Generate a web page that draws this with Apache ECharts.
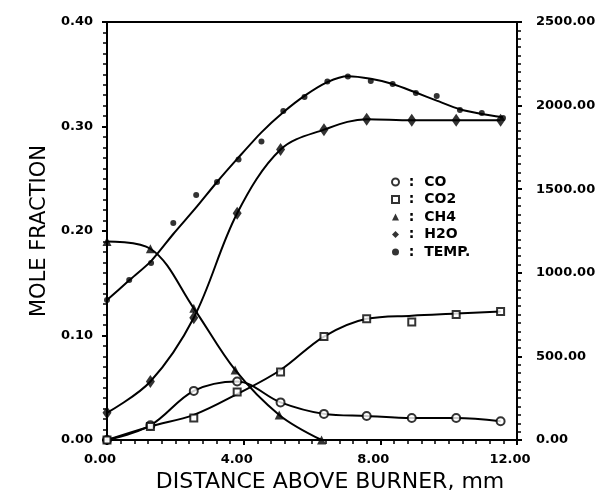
<!DOCTYPE html>
<html>
<head>
<meta charset="utf-8">
<script src="https://cdn.jsdelivr.net/npm/echarts@6/dist/echarts.min.js"></script>
<style>
html,body{margin:0;padding:0;background:#fff;}
#chart{width:607px;height:499px;}
</style>
</head>
<body>
<div id="chart"></div>
<script>
// Distances (mm) of species measurements
const speciesX = [0, 1.27, 2.54, 3.81, 5.08, 6.35, 7.6, 8.92, 10.22, 11.52];
const coVals  = [0, 0.014, 0.047, 0.056, 0.036, 0.025, 0.023, 0.021, 0.021, 0.018];
const co2Vals = [0, 0.013, 0.021, 0.046, 0.065, 0.099, 0.116, 0.113, 0.120, 0.123];
const co2Fit  = [0, 0.013, 0.024, 0.044, 0.067, 0.099, 0.116, 0.119, 0.121, 0.123];
const ch4X    = [0, 1.27, 2.54, 3.75, 5.04, 6.28];
const ch4Vals = [0.190, 0.183, 0.126, 0.067, 0.024, 0.0];
const h2oVals = [0.026, 0.056, 0.117, 0.217, 0.278, 0.297, 0.307, 0.306, 0.306, 0.306];
// Temperature (K)
const tempX   = [0, 0.65, 1.29, 1.94, 2.61, 3.22, 3.85, 4.52, 5.16, 5.78, 6.45, 7.05, 7.72, 8.36, 9.04, 9.65, 10.33, 10.97, 11.59];
const tempVals= [837, 957, 1059, 1298, 1465, 1543, 1678, 1785, 1968, 2051, 2144, 2174, 2147, 2129, 2075, 2057, 1974, 1956, 1926];
const tempFit = [837, 955, 1070, 1232, 1391, 1543, 1690, 1840, 1960, 2058, 2140, 2175, 2160, 2129, 2078, 2030, 1978, 1950, 1930];
// Axis ticks
const xTicks = {min: 0, max: 12, step: 4};
const leftTicks = {min: 0, max: 0.4, step: 0.1};
const rightTicks = {min: 0, max: 2500, step: 500};
const names = ['CO', 'CO2', 'CH4', 'H2O', 'TEMP.'];

const pair = (xs, ys) => xs.map((x, i) => [x, ys[i]]);
const FONT = 'DejaVu Sans';
const lab = {color: '#000', fontFamily: FONT, fontWeight: 'bold', fontSize: 13};
const axLine = {show: true, lineStyle: {color: '#000', width: 2}};
const tick = (inside) => ({show: true, inside: inside, length: 5, lineStyle: {color: '#000', width: 2}});
const minor = {show: true, splitNumber: 10, length: 4, lineStyle: {color: '#000', width: 1.5}};

const lineS = (name, data, yi, sm) => ({
  name: name, type: 'line', data: data, yAxisIndex: yi, smooth: sm,
  showSymbol: false, silent: true, lineStyle: {color: '#000', width: 2}, z: 2
});
const ptS = (name, data, yi, symbol, size, bw) => ({
  name: name, type: 'scatter', data: data, yAxisIndex: yi, symbol: symbol, symbolSize: size,
  itemStyle: {color: '#000', borderColor: '#000', borderWidth: bw}, z: 3
});

const chart = echarts.init(document.getElementById('chart'), null, {renderer: 'canvas'});
chart.setOption({
  animation: false,
  backgroundColor: '#fff',
  grid: {left: 107, right: 90, top: 22, bottom: 59, show: true, borderColor: '#000', borderWidth: 2, backgroundColor: 'transparent'},
  legend: {
    data: names.map(n => ({name: n})),
    orient: 'vertical', left: 386, top: 170, itemWidth: 7, itemHeight: 7, itemGap: 3.5,
    textStyle: Object.assign({}, lab, {fontSize: 14}),
    formatter: n => ' :  ' + n, selectedMode: false
  },
  xAxis: {
    type: 'value', min: xTicks.min, max: xTicks.max, interval: xTicks.step,
    axisLine: axLine, axisTick: tick(false), minorTick: minor,
    splitLine: {show: false}, minorSplitLine: {show: false},
    axisLabel: Object.assign({}, lab, {margin: 13, padding: [0, 14, 0, 0], formatter: v => v.toFixed(2)}),
    name: 'DISTANCE ABOVE BURNER, mm', nameLocation: 'middle', nameGap: 31,
    nameTextStyle: {color: '#000', fontFamily: FONT, fontSize: 22, padding: [0, 0, 0, 36]}
  },
  yAxis: [{
    type: 'value', min: leftTicks.min, max: leftTicks.max, interval: leftTicks.step, position: 'left',
    axisLine: axLine, axisTick: tick(false), minorTick: minor,
    splitLine: {show: false}, minorSplitLine: {show: false},
    axisLabel: Object.assign({}, lab, {margin: 14, formatter: v => v.toFixed(2)}),
    name: 'MOLE FRACTION', nameLocation: 'middle', nameGap: 55, nameRotate: 90,
    nameTextStyle: {color: '#000', fontFamily: FONT, fontSize: 21}
  }, {
    type: 'value', min: rightTicks.min, max: rightTicks.max, interval: rightTicks.step, position: 'right',
    axisLine: axLine, axisTick: tick(false), minorTick: minor,
    splitLine: {show: false}, minorSplitLine: {show: false},
    axisLabel: Object.assign({}, lab, {margin: 19, padding: [14, 0, 0, 0], formatter: v => v.toFixed(2)})
  }],
  series: [
    lineS('CO line', pair(speciesX, coVals), 0, 0.35),
    lineS('CO2 line', pair(speciesX, co2Fit), 0, 0.35),
    lineS('CH4 line', pair(ch4X, ch4Vals), 0, 0.35),
    lineS('H2O line', pair(speciesX, h2oVals), 0, 0.35),
    lineS('TEMP line', pair(tempX, tempFit), 1, 0.25),
    ptS('CO', pair(speciesX, coVals), 0, 'emptyCircle', 8, 2),
    ptS('CO2', pair(speciesX, co2Vals), 0, 'emptyRect', 7, 2),
    ptS('CH4', pair(ch4X, ch4Vals), 0, 'triangle', 9, 0),
    ptS('H2O', pair(speciesX, h2oVals), 0, 'diamond', [9, 13], 0),
    ptS('TEMP.', pair(tempX, tempVals), 1, 'circle', 6, 0)
  ]
});
</script>
</body>
</html>
